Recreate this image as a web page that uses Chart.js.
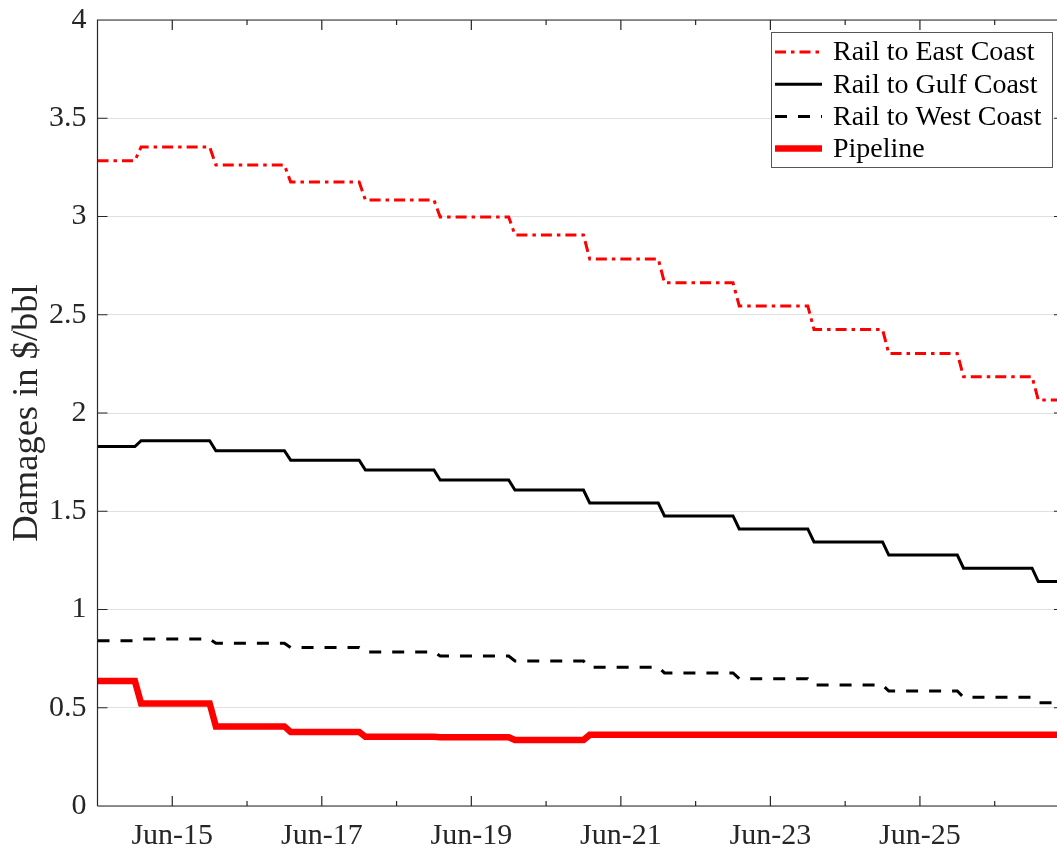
<!DOCTYPE html>
<html>
<head>
<meta charset="utf-8">
<script src="https://cdn.jsdelivr.net/npm/chart.js@4/dist/chart.umd.min.js"></script>
<style>
  html, body { margin: 0; padding: 0; background: #fff; }
  #wrap { width: 1057px; height: 852px; position: relative; }
</style>
</head>
<body>
<div id="wrap"><canvas id="chart"></canvas></div>
<script>
// Yearly damage levels in $/bbl; the series run from Jun-14 to Apr-27, stepping every January
const years = [2014, 2015, 2016, 2017, 2018, 2019, 2020, 2021, 2022, 2023, 2024, 2025, 2026, 2027];
const eastCoast = [3.284, 3.354, 3.262, 3.176, 3.084, 2.997, 2.906, 2.784, 2.663, 2.545, 2.425, 2.303, 2.185, 2.066];
const gulfCoast = [1.829, 1.859, 1.808, 1.760, 1.710, 1.659, 1.608, 1.542, 1.476, 1.410, 1.344, 1.277, 1.210, 1.142];
const westCoast = [0.841, 0.850, 0.828, 0.806, 0.784, 0.763, 0.738, 0.706, 0.677, 0.648, 0.616, 0.585, 0.553, 0.526];
const pipeline  = [0.636, 0.522, 0.405, 0.377, 0.352, 0.350, 0.336, 0.362, 0.362, 0.362, 0.362, 0.362, 0.362, 0.362];

const seriesNames = ['Rail to East Coast', 'Rail to Gulf Coast', 'Rail to West Coast', 'Pipeline'];
const yTicks = [0, 0.5, 1, 1.5, 2, 2.5, 3, 3.5, 4];

// x is months counted from Jun-14
const monthIndex = (year, month) => (year - 2014) * 12 + (month - 6);
const xMin = monthIndex(2014, 6);
const xMax = monthIndex(2027, 4);

// each year's level is held from its first to its last month on the plot
function stepPoints(levels) {
  const pts = [];
  years.forEach((yr, i) => {
    const start = Math.max(monthIndex(yr, 1), xMin);
    const end = Math.min(monthIndex(yr, 12), xMax);
    pts.push({ x: start, y: levels[i] }, { x: end, y: levels[i] });
  });
  return pts;
}

const serif = '"Liberation Serif", "Times New Roman", serif';
const axisColor = '#262626';

// MATLAB-style box with inward ticks
const axesBox = {
  id: 'axesBox',
  afterDraw(chart) {
    const { ctx, chartArea: a, scales } = chart;
    ctx.save();
    ctx.strokeStyle = axisColor;
    ctx.lineWidth = 1.2;
    ctx.beginPath();
    ctx.moveTo(a.left, a.bottom); ctx.lineTo(a.left, a.top); ctx.lineTo(a.right, a.top);
    ctx.moveTo(a.left, a.bottom); ctx.lineTo(a.right, a.bottom);
    // x ticks: every June, odd years longer
    scales.x.ticks.forEach(t => {
      const px = scales.x.getPixelForValue(t.value);
      const len = ((t.value / 12) % 2 === 1) ? 10 : 5;
      ctx.moveTo(px, a.bottom); ctx.lineTo(px, a.bottom - len);
      ctx.moveTo(px, a.top); ctx.lineTo(px, a.top + len);
    });
    scales.y.ticks.forEach(t => {
      const py = scales.y.getPixelForValue(t.value);
      ctx.moveTo(a.left, py); ctx.lineTo(a.left + 10, py);
      ctx.moveTo(a.right, py); ctx.lineTo(a.right - 3, py);
    });
    ctx.stroke();
    ctx.restore();
  }
};

// boxed legend in the top right corner of the plot
const boxLegend = {
  id: 'boxLegend',
  afterDraw(chart) {
    const { ctx, chartArea: a } = chart;
    const w = 281, h = 135;
    const x0 = a.right - 5 - w, y0 = a.top + 12;
    ctx.save();
    ctx.fillStyle = '#fff';
    ctx.fillRect(x0, y0, w, h);
    ctx.strokeStyle = '#555';
    ctx.lineWidth = 1;
    ctx.strokeRect(x0 + 0.5, y0 + 0.5, w, h);
    ctx.font = '28px ' + serif;
    ctx.textBaseline = 'middle';
    chart.data.datasets.forEach((ds, i) => {
      const yy = y0 + 20 + i * 32.2;
      ctx.strokeStyle = ds.borderColor;
      ctx.lineWidth = ds.borderWidth;
      ctx.setLineDash(ds.borderDash || []);
      ctx.beginPath();
      ctx.moveTo(x0 + 4, yy); ctx.lineTo(x0 + 51, yy);
      ctx.stroke();
      ctx.setLineDash([]);
      ctx.fillStyle = '#000';
      ctx.fillText(ds.label, x0 + 62, yy + 1);
    });
    ctx.restore();
  }
};

new Chart(document.getElementById('chart'), {
  type: 'line',
  data: {
    datasets: [
      { label: seriesNames[0], data: stepPoints(eastCoast), borderColor: '#ff0000', borderWidth: 3, borderDash: [11, 5, 3.5, 5] },
      { label: seriesNames[1], data: stepPoints(gulfCoast), borderColor: '#000000', borderWidth: 3 },
      { label: seriesNames[2], data: stepPoints(westCoast), borderColor: '#000000', borderWidth: 3, borderDash: [12, 11] },
      { label: seriesNames[3], data: stepPoints(pipeline), borderColor: '#ff0000', borderWidth: 6.5 }
    ]
  },
  options: {
    responsive: true,
    maintainAspectRatio: false,
    animation: false,
    layout: { padding: { top: 20, right: 0, left: 0, bottom: 0 } },
    elements: { point: { radius: 0 }, line: { tension: 0, borderJoinStyle: 'miter' } },
    plugins: { legend: { display: false }, tooltip: { enabled: false } },
    scales: {
      x: {
        type: 'linear',
        min: xMin,
        max: xMax,
        afterFit: s => { s.height = 46; s.paddingLeft = 0; s.paddingRight = 0; },
        grid: { display: false, drawTicks: false },
        border: { display: false },
        ticks: {
          stepSize: 12,
          includeBounds: false,
          autoSkip: false,
          maxRotation: 0,
          padding: 12,
          color: axisColor,
          font: { family: serif, size: 30 },
          callback: v => {
            const yr = 2014 + v / 12;
            return (yr % 2 === 1) ? 'Jun-' + String(yr).slice(2) : '';
          }
        }
      },
      y: {
        min: 0,
        max: 4,
        afterFit: s => { s.width = 97.5; s.paddingTop = 0; s.paddingBottom = 0; },
        afterBuildTicks: s => { s.ticks = yTicks.map(v => ({ value: v })); },
        grid: { color: '#e0e0e0', lineWidth: 1, drawTicks: false },
        border: { display: false },
        ticks: {
          padding: 11,
          color: axisColor,
          font: { family: serif, size: 30 },
          callback: v => String(v)
        },
        title: {
          display: true,
          text: 'Damages in $/bbl',
          color: axisColor,
          font: { family: serif, size: 36.5 },
          padding: { top: 6, bottom: 0 }
        }
      }
    }
  },
  plugins: [axesBox, boxLegend]
});
</script>
</body>
</html>
